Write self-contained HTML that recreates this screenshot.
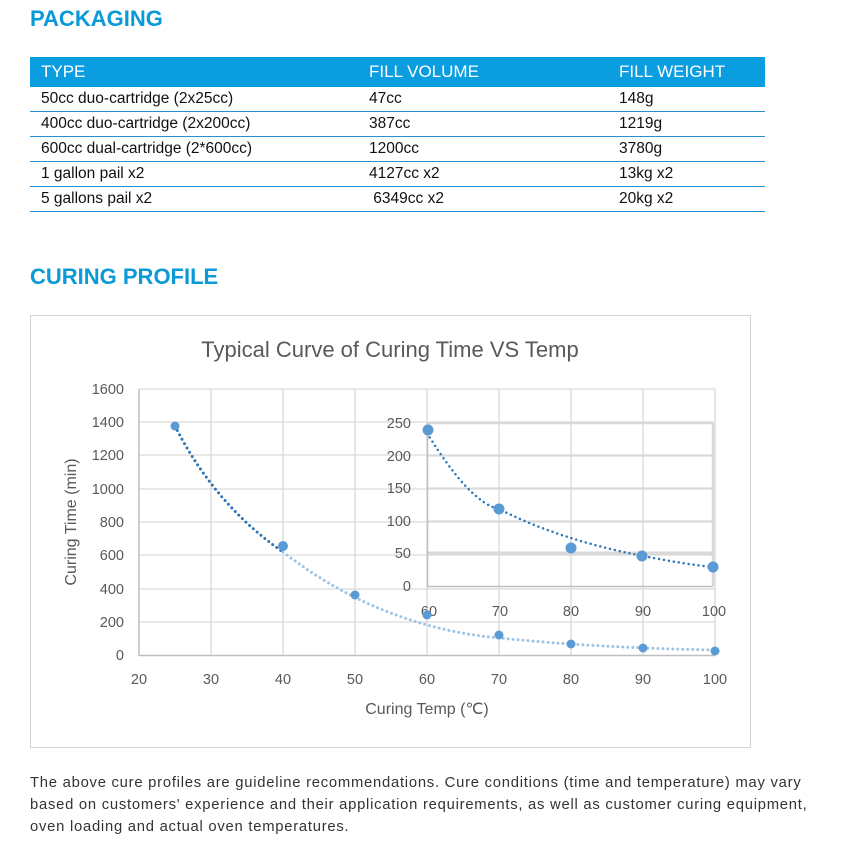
<!DOCTYPE html>
<html><head><meta charset="utf-8"><style>
body{margin:0;width:848px;height:860px;background:#fff;font-family:"Liberation Sans",sans-serif;position:relative;overflow:hidden}
.h{position:absolute;left:30px;color:#0a9ad8;font-weight:bold;font-size:22px;letter-spacing:0px}
table{position:absolute;left:30px;top:57px;width:735px;border-collapse:collapse;font-size:15.5px;color:#111}
td{height:24px;padding:0 0 0 11px;border-bottom:1.5px solid #2a8fd0;vertical-align:middle}
tr.hd td{background:#0a9de0;color:#fff;height:30px;font-size:17px;border-bottom:none}
.foot{position:absolute;left:30px;top:772px;width:818px;font-size:14.8px;line-height:22px;color:#333;white-space:nowrap;letter-spacing:0.75px}
</style></head><body>
<div class="h" style="top:6px">PACKAGING</div>
<table>
<tr class="hd"><td style="width:317px">TYPE</td><td style="width:239px">FILL VOLUME</td><td>FILL WEIGHT</td></tr>
<tr><td>50cc duo-cartridge (2x25cc)</td><td>47cc</td><td>148g</td></tr>
<tr><td>400cc duo-cartridge (2x200cc)</td><td>387cc</td><td>1219g</td></tr>
<tr><td>600cc dual-cartridge (2*600cc)</td><td>1200cc</td><td>3780g</td></tr>
<tr><td>1 gallon pail x2</td><td>4127cc x2</td><td>13kg x2</td></tr>
<tr><td>5 gallons pail x2</td><td>&nbsp;6349cc x2</td><td>20kg x2</td></tr>
</table>
<div class="h" style="top:264px">CURING PROFILE</div>
<svg style="position:absolute;left:0;top:0" width="848" height="860" font-family="Liberation Sans, sans-serif">
<rect x="30.5" y="315.5" width="720" height="432" fill="#fff" stroke="#d4d4d4"/>
<text x="390" y="357" text-anchor="middle" font-size="22" fill="#595959">Typical Curve of Curing Time VS Temp</text>
<g stroke="#d9d9d9" stroke-width="1.3">
<line x1="139" y1="389" x2="715" y2="389"/><line x1="139" y1="422" x2="715" y2="422"/><line x1="139" y1="455" x2="715" y2="455"/><line x1="139" y1="489" x2="715" y2="489"/><line x1="139" y1="522" x2="715" y2="522"/><line x1="139" y1="555" x2="715" y2="555"/><line x1="139" y1="589" x2="715" y2="589"/><line x1="139" y1="622" x2="715" y2="622"/>
<line x1="211" y1="389" x2="211" y2="655"/><line x1="283" y1="389" x2="283" y2="655"/><line x1="355" y1="389" x2="355" y2="655"/><line x1="427" y1="389" x2="427" y2="655"/><line x1="499" y1="389" x2="499" y2="655"/><line x1="571" y1="389" x2="571" y2="655"/><line x1="643" y1="389" x2="643" y2="655"/><line x1="715" y1="389" x2="715" y2="655"/>
<line x1="427" y1="423" x2="713" y2="423" stroke-width="2.5"/><line x1="427" y1="456" x2="713" y2="456"/><line x1="427" y1="488" x2="713" y2="488"/><line x1="427" y1="521" x2="713" y2="521"/><line x1="427" y1="553" x2="713" y2="553" stroke-width="3"/><line x1="713" y1="423" x2="713" y2="586" stroke-width="2.5"/>
</g>
<line x1="139" y1="389" x2="139" y2="656" stroke="#bfbfbf" stroke-width="1.5"/>
<line x1="139" y1="655.5" x2="715" y2="655.5" stroke="#bfbfbf" stroke-width="1.5"/>
<line x1="427.5" y1="423" x2="427.5" y2="587" stroke="#bfbfbf" stroke-width="1.5"/>
<line x1="427" y1="586.5" x2="713" y2="586.5" stroke="#bfbfbf" stroke-width="1.5"/>
<g font-size="14.5" fill="#595959" text-anchor="end">
<text x="124" y="394">1600</text><text x="124" y="427">1400</text><text x="124" y="460">1200</text><text x="124" y="494">1000</text><text x="124" y="527">800</text><text x="124" y="560">600</text><text x="124" y="594">400</text><text x="124" y="627">200</text><text x="124" y="660">0</text>
<text x="411" y="428">250</text><text x="411" y="461">200</text><text x="411" y="493">150</text><text x="411" y="526">100</text><text x="411" y="558">50</text><text x="411" y="591">0</text>
</g>
<g font-size="14.5" fill="#595959" text-anchor="middle">
<text x="139" y="684">20</text><text x="211" y="684">30</text><text x="283" y="684">40</text><text x="355" y="684">50</text><text x="427" y="684">60</text><text x="499" y="684">70</text><text x="571" y="684">80</text><text x="643" y="684">90</text><text x="715" y="684">100</text>
<text x="429" y="616">60</text><text x="500" y="616">70</text><text x="571" y="616">80</text><text x="643" y="616">90</text><text x="714" y="616">100</text>
<text x="427" y="714" font-size="16">Curing Temp (℃)</text>
<text transform="translate(76,522) rotate(-90)" font-size="16">Curing Time (min)</text>
</g>
<g fill="none" stroke-linecap="round" stroke-dasharray="0 5" stroke-width="3">
<path stroke="#2e75b6" d="M175,426 Q215,505 283,552"/>
<path stroke="#9dc3e6" d="M283,552 Q380,627 499,638 Q600,648 715,650"/>
<path stroke="#2e75b6" stroke-width="2.5" d="M427,433 Q470,503 499,509 Q560,540 643,556 Q690,565 713,567"/>
</g>
<g fill="#5b9bd5">
<circle cx="175" cy="426" r="4.5"/><circle cx="283" cy="546" r="5"/><circle cx="355" cy="595" r="4.5"/><circle cx="427" cy="615" r="4.5"/><circle cx="499" cy="635" r="4.5"/><circle cx="571" cy="644" r="4.5"/><circle cx="643" cy="648" r="4.5"/><circle cx="715" cy="651" r="4.5"/>
<circle cx="428" cy="430" r="5.5"/><circle cx="499" cy="509" r="5.5"/><circle cx="571" cy="548" r="5.5"/><circle cx="642" cy="556" r="5.5"/><circle cx="713" cy="567" r="5.5"/>
</g>
</svg>
<div class="foot">The above cure profiles are guideline recommendations. Cure conditions (time and temperature) may vary<br>based on customers' experience and their application requirements, as well as customer curing equipment,<br>oven loading and actual oven temperatures.</div>
</body></html>
